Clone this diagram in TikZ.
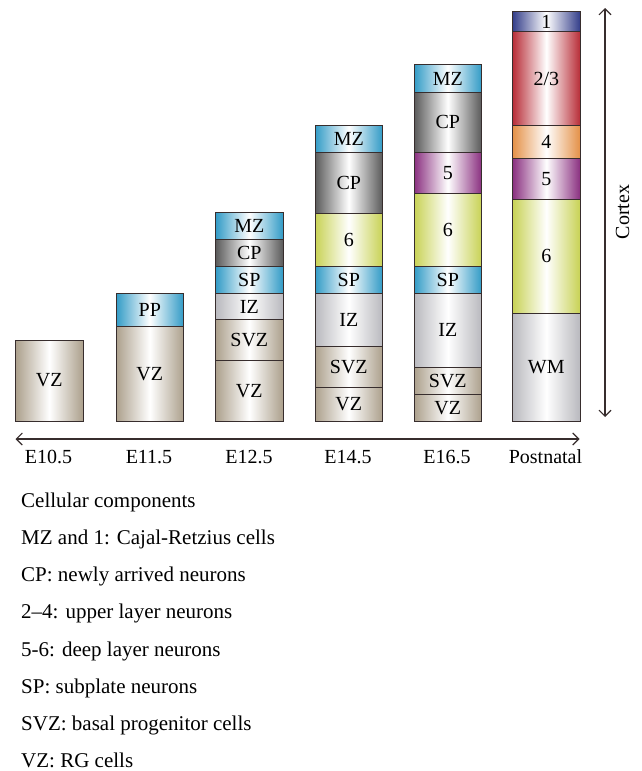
\documentclass[tikz,border=0pt]{standalone}
\usepackage{fontspec}
\setmainfont{Liberation Serif}
\usetikzlibrary{arrows.meta}
\definecolor{edgec}{RGB}{55,45,45}
\definecolor{tanc}{RGB}{172,160,140}
\definecolor{bluec}{RGB}{50,155,198}
\definecolor{cpc}{RGB}{90,90,90}
\definecolor{izc}{RGB}{185,185,190}
\definecolor{sixc}{RGB}{200,210,85}
\definecolor{fivec}{RGB}{138,48,128}
\definecolor{fourc}{RGB}{228,145,72}
\definecolor{twoc}{RGB}{184,46,56}
\definecolor{onec}{RGB}{52,62,138}
\tikzset{
  layer/.style={draw=edgec, line width=1.1pt, left color=#1, right color=#1, middle color=white,
    minimum width=67.5pt, inner sep=0pt, font=\fontsize{20}{24}\selectfont, text=black},
  axlabel/.style={font=\fontsize{20}{24}\selectfont, inner sep=0pt, anchor=base},
  legend/.style={font=\fontsize{21}{24}\selectfont, inner sep=0pt, anchor=base west},
  arr/.style={draw=edgec, line width=1.1pt, {Straight Barb[length=6pt,width=12pt]}-{Straight Barb[length=6pt,width=12pt]}}
}
\newcommand\lay[6]{\node[layer=#5, minimum height={(#4-#3)*1pt}, anchor=north west] (#1) at (#2,#3) {#6};}
\begin{document}
\begin{tikzpicture}[x=1pt,y=-1pt]
\useasboundingbox (0,0) rectangle (642,771);
% E10.5
\lay{aVZ}{15}{339.5}{420.5}{tanc}{VZ}
% E11.5
\lay{bPP}{115.5}{292.5}{326}{bluec}{PP}
\lay{bVZ}{115.5}{326}{420.5}{tanc}{VZ}
% E12.5
\lay{cMZ}{215}{211.5}{239}{bluec}{MZ}
\lay{cCP}{215}{239}{266}{cpc}{CP}
\lay{cSP}{215}{266}{292.7}{bluec}{SP}
\lay{cIZ}{215}{292.7}{319.3}{izc}{IZ}
\lay{cSVZ}{215}{319.3}{360}{tanc}{SVZ}
\lay{cVZ}{215}{360}{420.5}{tanc}{VZ}
% E14.5
\lay{dMZ}{314.5}{125}{152}{bluec}{MZ}
\lay{dCP}{314.5}{152}{212.7}{cpc}{CP}
\lay{dSix}{314.5}{212.7}{265.7}{sixc}{6}
\lay{dSP}{314.5}{265.7}{292.7}{bluec}{SP}
\lay{dIZ}{314.5}{292.7}{346}{izc}{IZ}
\lay{dSVZ}{314.5}{346}{387.3}{tanc}{SVZ}
\lay{dVZ}{314.5}{387.3}{420.5}{tanc}{VZ}
% E16.5
\lay{eMZ}{413.5}{64.3}{91.7}{bluec}{MZ}
\lay{eCP}{413.5}{91.7}{151.7}{cpc}{CP}
\lay{eFive}{413.5}{151.7}{192.7}{fivec}{5}
\lay{eSix}{413.5}{192.7}{266}{sixc}{6}
\lay{eSP}{413.5}{266}{292.7}{bluec}{SP}
\lay{eIZ}{413.5}{292.7}{366.7}{izc}{IZ}
\lay{eSVZ}{413.5}{366.7}{394}{tanc}{SVZ}
\lay{eVZ}{413.5}{394}{420.5}{tanc}{VZ}
% Postnatal
\lay{fOne}{512}{10.7}{31}{onec}{1}
\lay{fTwo}{512}{31}{125}{twoc}{2/3}
\lay{fFour}{512}{125}{158.3}{fourc}{4}
\lay{fFive}{512}{158.3}{199}{fivec}{5}
\lay{fSix}{512}{199}{312.7}{sixc}{6}
\lay{fWM}{512}{312.7}{420.5}{izc}{WM}
% time axis
\coordinate (tL) at (15.5,439);
\coordinate (tR) at (579.5,439);
\draw[arr] (tL) -- (tR);
\node[axlabel] (l1) at (48.5,463.5) {E10.5};
\node[axlabel] (l2) at (149,463.5) {E11.5};
\node[axlabel] (l3) at (249,463.5) {E12.5};
\node[axlabel] (l4) at (348,463.5) {E14.5};
\node[axlabel] (l5) at (447,463.5) {E16.5};
\node[axlabel] (l6) at (545.5,463.5) {Postnatal};
% cortex axis
\coordinate (cT) at (605,8);
\coordinate (cB) at (605,417);
\draw[arr] (cT) -- (cB);
\node[font=\fontsize{20}{24}\selectfont, inner sep=0pt, rotate=90] (cx) at (622.5,212) {Cortex};
% legend
\node[legend] (g0) at (21,507.3) {Cellular components};
\node[legend] (g1) at (21,544.5) {MZ and 1: Cajal-Retzius cells};
\node[legend] (g2) at (21,581.7) {CP: newly arrived neurons};
\node[legend] (g3) at (21,618.9) {2–4: upper layer neurons};
\node[legend] (g4) at (21,656.1) {5-6: deep layer neurons};
\node[legend] (g5) at (21,693.3) {SP: subplate neurons};
\node[legend] (g6) at (21,730.5) {SVZ: basal progenitor cells};
\node[legend] (g7) at (21,767.7) {VZ: RG cells};
\end{tikzpicture}
\end{document}
